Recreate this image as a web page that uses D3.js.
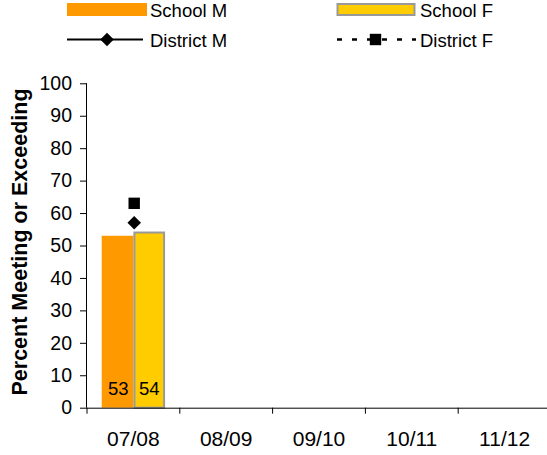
<!DOCTYPE html>
<html><head><meta charset="utf-8">
<script src="https://cdn.jsdelivr.net/npm/d3@7"></script>
<style>body{margin:0;background:#fff}svg{display:block}text{font-family:"Liberation Sans",Arial,sans-serif;fill:#000}</style>
</head><body>
<svg id="c" width="547" height="455"></svg>
<script>
const categories = ["07/08","08/09","09/10","10/11","11/12"];
const schoolM = [53, null, null, null, null];
const schoolF = [54, null, null, null, null];
const districtM = [57, null, null, null, null];
const districtF = [63, null, null, null, null];
const yTicks = [0,10,20,30,40,50,60,70,80,90,100];

const svg = d3.select("#c");
const mLeft = 87, mRight = 551, mTop = 83.3, mBottom = 407.7;
const x = d3.scaleBand().domain(categories).range([mLeft, mRight]);
const y = d3.scaleLinear().domain([0,100]).range([mBottom, mTop]);
const bw = 31.7;
const orange = "#FF9900", yellow = "#FFCC00", gray = "#999999";
const diamond = d3.symbol(d3.symbolSquare, 92)();
const square = d3.symbol(d3.symbolSquare, 130)();

// bars
categories.forEach((c,i)=>{
  const cx = x(c) + x.bandwidth()/2;
  if (schoolM[i] != null) {
    svg.append("rect").attr("x", cx-bw).attr("y", y(schoolM[i])).attr("width", bw).attr("height", y(0)-y(schoolM[i])).attr("fill", orange);
    svg.append("text").attr("x", cx-bw/2+0.7).attr("y", 395).attr("text-anchor","middle").style("font-size","18.5px").text(schoolM[i]);
  }
  if (schoolF[i] != null) {
    svg.append("rect").attr("x", cx+1).attr("y", y(schoolF[i])).attr("width", bw-2).attr("height", y(0)-y(schoolF[i])).attr("fill", yellow).attr("stroke", gray).attr("stroke-width", 2);
    svg.append("text").attr("x", cx+bw/2).attr("y", 395).attr("text-anchor","middle").style("font-size","18.5px").text(schoolF[i]);
  }
  if (districtM[i] != null) {
    svg.append("path").attr("d", diamond).attr("transform", `translate(${cx+0.8},${y(districtM[i])}) rotate(45)`).attr("fill","#000");
  }
  if (districtF[i] != null) {
    svg.append("path").attr("d", square).attr("transform", `translate(${cx+0.8},${y(districtF[i])})`).attr("fill","#000");
  }
});

// y axis
const ya = svg.append("g").attr("transform", `translate(${mLeft},0)`)
  .call(d3.axisLeft(y).tickValues(yTicks).tickSize(7).tickPadding(8));
ya.select(".domain").attr("stroke","#000").attr("d", `M-0.5,${mTop}V${mBottom}`);
ya.selectAll(".tick line").attr("stroke","#000");
ya.selectAll("text").style("font-size","19.5px").attr("font-family","Liberation Sans, Arial, sans-serif");

// x axis
const xa = svg.append("g").attr("transform", `translate(0,${mBottom})`)
  .call(d3.axisBottom(x).tickSize(0).tickPadding(23));
xa.select(".domain").attr("stroke","#000").attr("d", `M${mLeft},0.5H${mRight}`);
xa.selectAll("text").style("font-size","21px").attr("font-family","Liberation Sans, Arial, sans-serif");
categories.forEach(c=>{
  svg.append("line").attr("x1", x(c)+x.bandwidth()).attr("x2", x(c)+x.bandwidth()).attr("y1", mBottom).attr("y2", mBottom+6).attr("stroke","#000");
});
svg.append("line").attr("x1", mLeft).attr("x2", mLeft).attr("y1", mBottom).attr("y2", mBottom+6).attr("stroke","#000");

// y title
svg.append("text").attr("transform", `translate(27,242) rotate(-90)`).attr("text-anchor","middle")
  .style("font-size","21.5px").style("font-weight","bold").text("Percent Meeting or Exceeding");

// legend
const lg = svg.append("g");
lg.append("rect").attr("x",67).attr("y",3).attr("width",80).attr("height",13).attr("fill",orange);
lg.append("text").attr("x",150).attr("y",17).style("font-size","18.5px").text("School M");
lg.append("rect").attr("x",337.5).attr("y",4).attr("width",77).attr("height",11).attr("fill",yellow).attr("stroke",gray).attr("stroke-width",2);
lg.append("text").attr("x",420).attr("y",17).style("font-size","18.5px").text("School F");
lg.append("line").attr("x1",67).attr("x2",143).attr("y1",39.5).attr("y2",39.5).attr("stroke","#000").attr("stroke-width",2);
lg.append("path").attr("d", diamond).attr("transform","translate(107,39.5) rotate(45)").attr("fill","#000");
lg.append("text").attr("x",150).attr("y",47).style("font-size","18.5px").text("District M");
lg.append("line").attr("x1",337).attr("x2",416).attr("y1",39.5).attr("y2",39.5).attr("stroke","#000").attr("stroke-width",2.5).attr("stroke-dasharray","5,10");
lg.append("path").attr("d", square).attr("transform","translate(375.5,39.5)").attr("fill","#000");
lg.append("text").attr("x",420).attr("y",47).style("font-size","18.5px").text("District F");
</script>
</body></html>
